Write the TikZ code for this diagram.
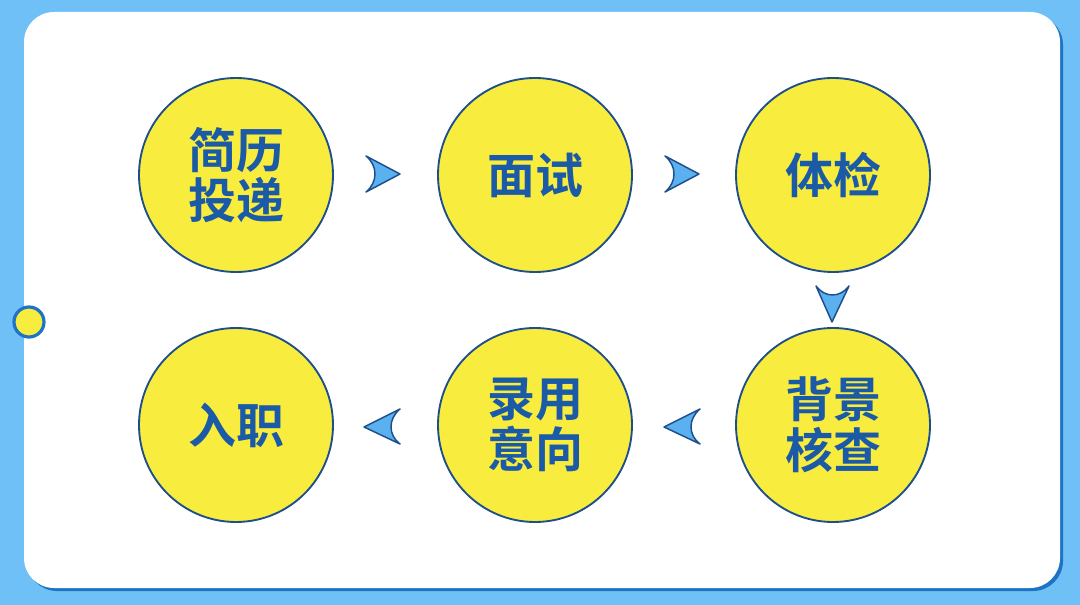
\documentclass[tikz,border=0pt]{standalone}
\usepackage{fontspec}
\newfontfamily\cjk{Noto Sans CJK SC Bold}
\definecolor{bgblue}{HTML}{6EC0F6}
\definecolor{shadowblue}{HTML}{1E74C4}
\definecolor{ringblue}{HTML}{1D4F8C}
\definecolor{txtblue}{HTML}{1B5AA6}
\definecolor{circyellow}{HTML}{F8EC3E}
\definecolor{arrowblue}{HTML}{5BB0EF}
\begin{document}
\begin{tikzpicture}[x=0.75pt,y=-0.75pt,
  stepcircle/.style={circle,draw=ringblue,line width=1.4pt,fill=circyellow,minimum size=194*0.75pt,inner sep=0pt,
    font=\cjk\fontsize{36}{42}\selectfont,text=txtblue,align=center},
  chevron/.style={fill=arrowblue,draw=ringblue,line width=1.1pt,line join=round}]
\useasboundingbox (0,0) rectangle (1080,605);
\fill[bgblue] (0,0) rectangle (1080,605);
\fill[shadowblue,rounded corners=30*0.75pt] (27,15) rectangle (1063,591);
\fill[white,rounded corners=30*0.75pt] (24,12) rectangle (1060,588);
\node[stepcircle] (c1) at (236,175) {简历\\[-4pt]投递};
\node[stepcircle] (c2) at (535,175) {面试};
\node[stepcircle] (c3) at (833,175) {体检};
\node[stepcircle] (c4) at (833,425) {背景\\[-4pt]核查};
\node[stepcircle] (c5) at (535,425) {录用\\[-4pt]意向};
\node[stepcircle] (c6) at (236,425) {入职};
\node[circle,draw=shadowblue,line width=2.4pt,fill=circyellow,minimum size=30*0.75pt,inner sep=0pt] (dot) at (29,322) {};
% right-pointing chevrons
\draw[chevron] (366,156) -- (400,174) -- (366,192) .. controls (378,182) and (378,166) .. (366,156) -- cycle;
\draw[chevron] (665,156) -- (699,174) -- (665,192) .. controls (677,182) and (677,166) .. (665,156) -- cycle;
% down chevron
\draw[chevron] (816,286) -- (832,322) -- (849,286) .. controls (840,298) and (825,298) .. (816,286) -- cycle;
% left-pointing chevrons
\draw[chevron] (400,409) -- (364,427) -- (400,444) .. controls (388,435) and (388,419) .. (400,409) -- cycle;
\draw[chevron] (700,409) -- (664,427) -- (700,444) .. controls (688,435) and (688,419) .. (700,409) -- cycle;
\end{tikzpicture}
\end{document}
